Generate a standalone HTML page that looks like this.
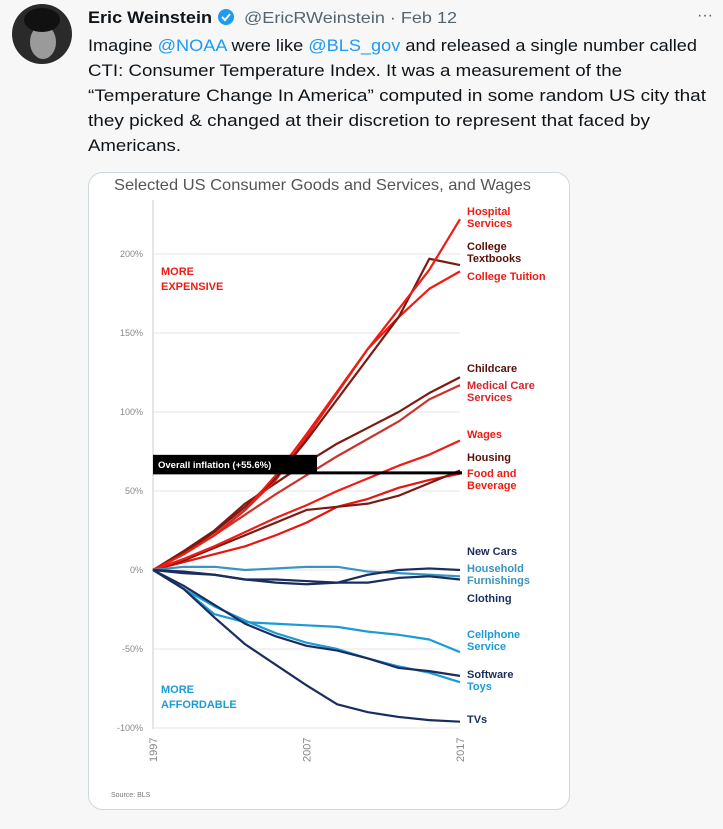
<!DOCTYPE html>
<html><head><meta charset="utf-8"><style>
html,body{margin:0;padding:0;background:#f7f7f7;}
svg{display:block;font-family:"Liberation Sans",sans-serif;}
</style></head><body>
<svg id="s" width="723" height="829" viewBox="0 0 723 829">
<rect width="723" height="829" fill="#f7f7f7"/>
<g>
<circle cx="42" cy="34" r="30" fill="#2a2a2a"/>
<ellipse cx="43" cy="42" rx="13" ry="17" fill="#9a9a9a"/>
<ellipse cx="42" cy="20" rx="18" ry="12" fill="#111"/>
</g>
<text x="88" y="23" font-size="16.5" font-weight="bold" fill="#0f1419" textLength="124" lengthAdjust="spacingAndGlyphs">Eric Weinstein</text>
<g><circle cx="226" cy="17" r="8" fill="#1d9bf0"/><path d="M222 17 l3 3 l5 -6" stroke="#fff" stroke-width="2" fill="none"/></g>
<text x="244" y="23" font-size="16" fill="#536471" textLength="213" lengthAdjust="spacingAndGlyphs">@EricRWeinstein · Feb 12</text>
<text x="697" y="20" font-size="16" fill="#536471">···</text>
<g font-size="16.5" fill="#0f1419">
<text x="88" y="51" textLength="609" lengthAdjust="spacingAndGlyphs">Imagine <tspan fill="#1d9bf0">@NOAA</tspan> were like <tspan fill="#1d9bf0">@BLS_gov</tspan> and released a single number called</text>
<text x="88" y="76" textLength="534" lengthAdjust="spacingAndGlyphs">CTI: Consumer Temperature Index. It was a measurement of the</text>
<text x="88" y="101" textLength="618" lengthAdjust="spacingAndGlyphs">“Temperature Change In America” computed in some random US city that</text>
<text x="88" y="126" textLength="562" lengthAdjust="spacingAndGlyphs">they picked &amp; changed at their discretion to represent that faced by</text>
<text x="88" y="151" textLength="93" lengthAdjust="spacingAndGlyphs">Americans.</text>
</g>
<rect x="88.5" y="172.5" width="481" height="637" rx="14" fill="#fff" stroke="#cfd9de"/>
<text x="114" y="190" font-size="16" fill="#555" textLength="417" lengthAdjust="spacingAndGlyphs">Selected US Consumer Goods and Services, and Wages</text>
<g id="chart"></g>
<text x="111" y="797" font-size="7" fill="#777">Source: BLS</text>
</svg>
<script>
const years=[1997,1999,2001,2003,2005,2007,2009,2011,2013,2015,2017];
const yTicks=[200,150,100,50,0,-50,-100];
const yTickLabels=["200%","150%","100%","50%","0%","-50%","-100%"];
const xTickLabels=["1997","2007","2017"];
const hospital=[0,10,22,38,60,86,113,140,165,190,222];
const textbooks=[0,11,24,40,58,82,108,134,160,197,193];
const tuition=[0,10,22,38,57,84,112,140,160,178,189];
const childcare=[0,12,25,42,55,68,80,90,100,112,122];
const medical=[0,10,22,35,48,60,72,83,94,108,117];
const wages=[0,7,15,24,33,41,50,58,66,73,82];
const housing=[0,6,14,22,30,38,40,42,47,55,63];
const food=[0,5,10,15,22,30,40,45,52,57,61];
const newCars=[0,-1,-3,-6,-6,-7,-8,-3,0,1,0];
const household=[0,2,2,0,1,2,2,-1,-2,-3,-4];
const clothing=[0,-2,-3,-6,-8,-9,-8,-8,-5,-4,-6];
const cellphone=[0,-12,-28,-33,-34,-35,-36,-39,-41,-44,-52];
const software=[0,-10,-22,-34,-42,-48,-51,-56,-62,-64,-67];
const toys=[0,-12,-23,-32,-40,-46,-50,-56,-61,-65,-71];
const tvs=[0,-12,-30,-47,-60,-73,-85,-90,-93,-95,-96];
const inflation=[61.5];
const X=y=>153+(y-1997)*(460-153)/20;
const Y=v=>570-v*1.58;
const NS="http://www.w3.org/2000/svg";
const g=document.getElementById('chart');
function mk(t,a,p){const e=document.createElementNS(NS,t);for(const k in a)e.setAttribute(k,a[k]);(p||g).appendChild(e);return e;}
yTicks.forEach((v,i)=>{
 const l=mk('line',{x1:153,x2:460,y1:Y(v),y2:Y(v),stroke:'#e6e6e6'});
 
 
 const t=mk('text',{x:143,y:Y(v)+3,'font-size':9,fill:'#888','text-anchor':'end'});
 t.textContent=yTickLabels[i];
 
 
});
const ax=mk('line',{x1:153,x2:153,y1:200,y2:729,stroke:'#ccc'});


xTickLabels.forEach(s=>{
 const x=X(+s)+4;
 const t=mk('text',{x:x,y:762,'font-size':11,fill:'#888',transform:`rotate(-90 ${x} 762)`});
 t.textContent=s;
 
 
});
const series=[
 [food,'#e8140f','food-and-beverage-line'],[housing,'#7a1a10','housing-line'],[wages,'#ee1c14','wages-line'],
 [medical,'#c8342c','medical-care-line'],[childcare,'#7a1a10','childcare-line'],
 [tuition,'#ee1c14','college-tuition-line'],[textbooks,'#7a1a10','college-textbooks-line'],[hospital,'#ee1c14','hospital-services-line'],
 [household,'#3a93c0','household-furnishings-line'],[newCars,'#1a2e5e','new-cars-line'],[clothing,'#1a2e5e','clothing-line'],
 [cellphone,'#1c9ad6','cellphone-service-line'],[toys,'#1c9ad6','toys-line'],[software,'#1a2e5e','software-line'],[tvs,'#1a2e5e','tvs-line']];
series.forEach(([d,c,n])=>{
 const p=mk('polyline',{points:d.map((v,i)=>X(years[i])+','+Y(v)).join(' '),fill:'none',stroke:c,'stroke-width':2.2,'stroke-linejoin':'round'});
 
 
});
const il=mk('line',{x1:153,x2:462,y1:Y(inflation[0]),y2:Y(inflation[0]),stroke:'#000','stroke-width':3});


const ib=mk('rect',{x:153,y:Y(inflation[0])-18,width:164,height:18,fill:'#000'});


const it=mk('text',{x:158,y:Y(inflation[0])-5,'font-size':9.5,'font-weight':'bold',fill:'#fff'});
it.textContent='Overall inflation (+55.6%)';


const labels=[
 ['Hospital',215,'#ee1c14'],['Services',227,'#ee1c14'],['College',250,'#5a1208'],['Textbooks',262,'#5a1208'],['College Tuition',280,'#ee1c14'],
 ['Childcare',372,'#5a1208'],['Medical Care',389,'#d0282c'],['Services',401,'#d0282c'],['Wages',438,'#ee1c14'],['Housing',461,'#5a1208'],
 ['Food and',477,'#ee1c14'],['Beverage',489,'#ee1c14'],['New Cars',555,'#1a2e5e'],['Household',572,'#3a93c0'],['Furnishings',584,'#3a93c0'],
 ['Clothing',602,'#1a2e5e'],['Cellphone',638,'#1c9ad6'],['Service',650,'#1c9ad6'],['Software',678,'#1a2e5e'],['Toys',690,'#1c9ad6'],['TVs',723,'#1a2e5e'],
 ['MORE',275,'#ee1c14',161],['EXPENSIVE',290,'#ee1c14',161],['MORE',693,'#1c9ad6',161],['AFFORDABLE',708,'#1c9ad6',161]];
labels.forEach(([s,y,c,x])=>{
 const t=mk('text',{x:x||467,y:y,'font-size':11,'font-weight':'bold',fill:c});
 t.textContent=s;
 
 
});
</script>
</body></html>
